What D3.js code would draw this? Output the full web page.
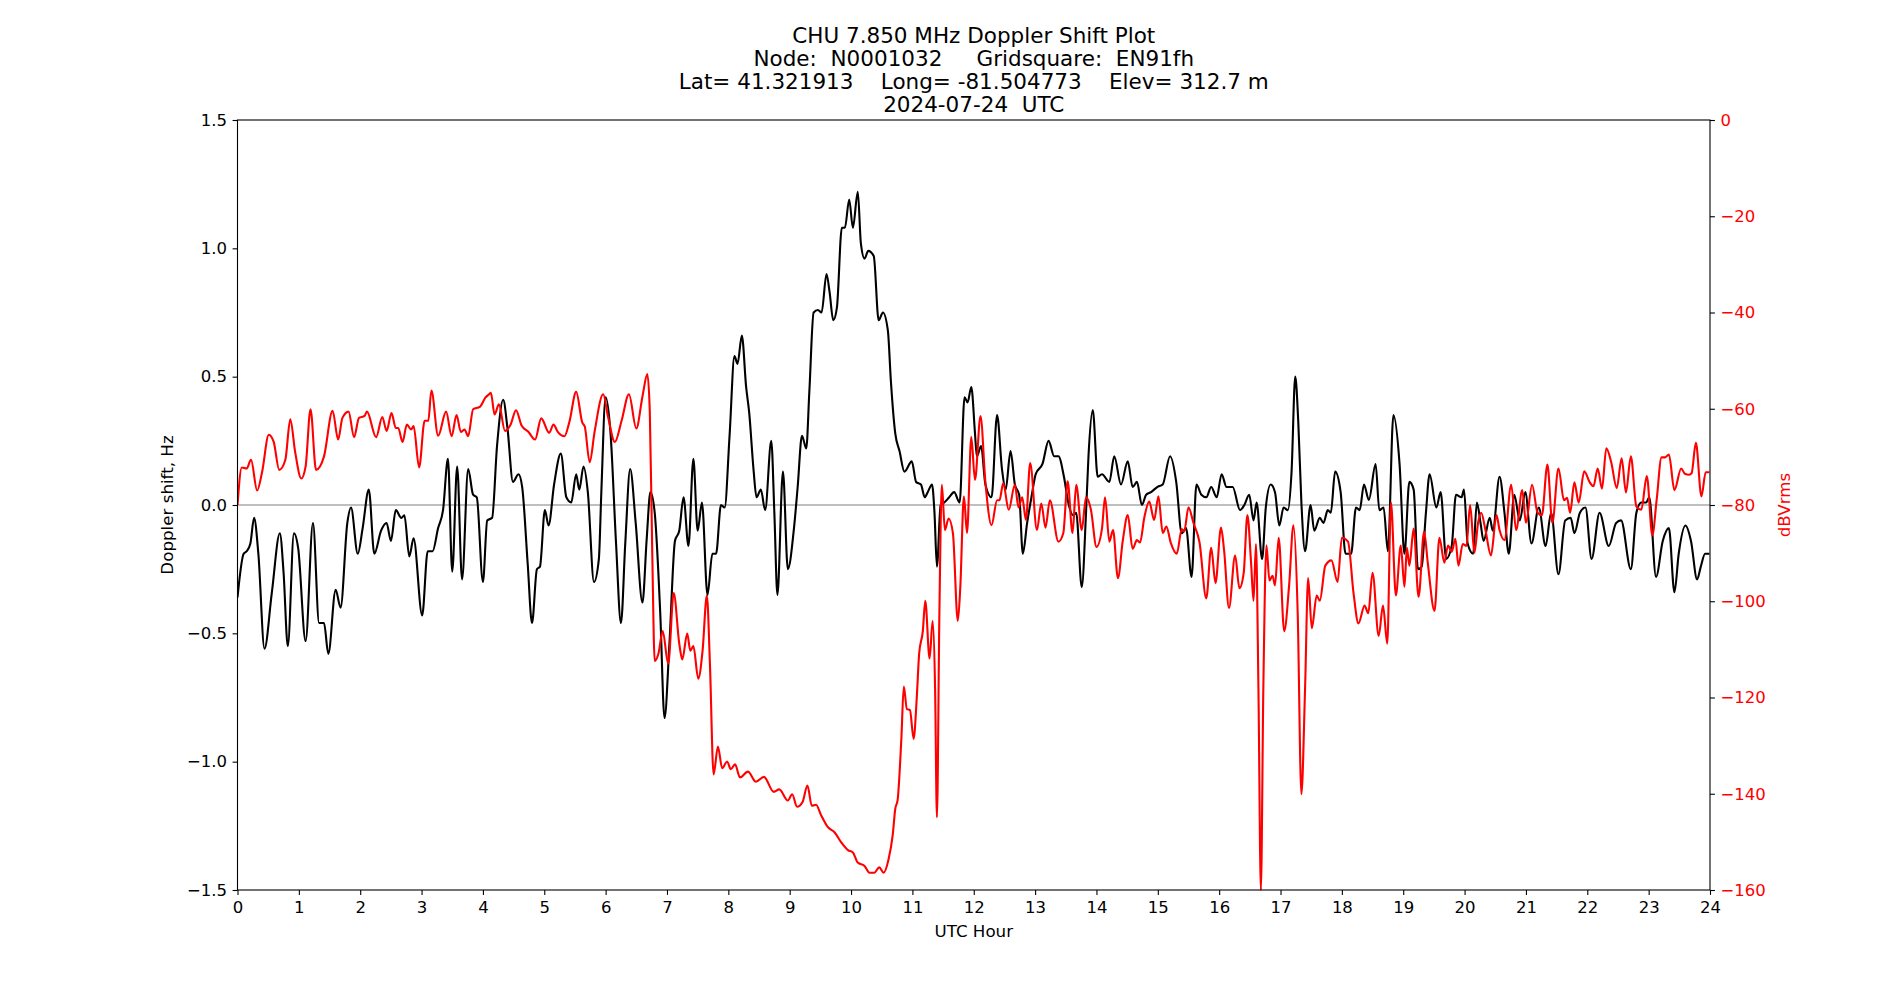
<!DOCTYPE html>
<html>
<head>
<meta charset="utf-8">
<script src="https://cdn.jsdelivr.net/npm/d3@7"></script>
<style>
  body { margin: 0; background: #fff; }
  svg { display: block; font-family: "DejaVu Sans", sans-serif; }
</style>
</head>
<body>
<svg id="chart" width="1900" height="1000"></svg>
<script>
"use strict";

const titleLines = [
  "CHU 7.850 MHz Doppler Shift Plot",
  "Node:  N0001032     Gridsquare:  EN91fh",
  "Lat= 41.321913    Long= -81.504773    Elev= 312.7 m",
  "2024-07-24  UTC"
];

const hourTicks = d3.range(0, 25);
const dopplerTicks = [1.5, 1.0, 0.5, 0.0, -0.5, -1.0, -1.5];
const dbTicks = [0, -20, -40, -60, -80, -100, -120, -140, -160];

// black trace: doppler shift, Hz
const dopplerHours = [0.00,0.10,0.15,0.21,0.27,0.34,0.44,0.56,0.69,0.75,0.82,0.92,0.99,1.11,1.23,1.33,1.41,1.48,1.60,1.68,1.79,1.85,1.96,2.04,2.14,2.23,2.34,2.43,2.50,2.58,2.67,2.72,2.80,2.87,3.01,3.10,3.18,3.27,3.35,3.43,3.50,3.58,3.66,3.76,3.84,3.90,4.00,4.07,4.15,4.23,4.33,4.40,4.49,4.58,4.64,4.73,4.80,4.88,4.93,5.01,5.07,5.16,5.27,5.36,5.44,5.52,5.57,5.64,5.71,5.81,5.89,5.93,6.00,6.08,6.17,6.25,6.32,6.40,6.49,6.60,6.67,6.73,6.80,6.89,6.96,7.04,7.13,7.20,7.27,7.35,7.43,7.50,7.57,7.66,7.74,7.80,7.88,7.94,8.02,8.10,8.15,8.22,8.29,8.34,8.41,8.46,8.53,8.60,8.70,8.75,8.80,8.89,8.97,9.07,9.13,9.20,9.27,9.32,9.39,9.46,9.52,9.60,9.65,9.71,9.77,9.85,9.90,9.97,10.03,10.11,10.16,10.22,10.28,10.37,10.45,10.52,10.60,10.65,10.72,10.79,10.87,10.99,11.06,11.14,11.20,11.25,11.32,11.36,11.40,11.46,11.52,11.60,11.68,11.77,11.85,11.90,11.96,12.02,12.05,12.12,12.19,12.29,12.38,12.46,12.52,12.60,12.67,12.74,12.80,12.87,12.94,13.01,13.12,13.22,13.31,13.38,13.47,13.54,13.62,13.67,13.76,13.83,13.87,13.94,14.02,14.09,14.21,14.29,14.40,14.51,14.59,14.66,14.74,14.81,14.89,14.99,15.08,15.20,15.30,15.39,15.46,15.55,15.63,15.71,15.79,15.87,15.96,16.04,16.12,16.22,16.34,16.41,16.49,16.56,16.61,16.70,16.76,16.84,16.91,16.98,17.05,17.12,17.18,17.24,17.29,17.34,17.40,17.49,17.55,17.64,17.70,17.77,17.82,17.89,17.98,18.06,18.15,18.23,18.29,18.36,18.44,18.55,18.61,18.68,18.75,18.84,18.94,19.02,19.10,19.17,19.24,19.30,19.37,19.43,19.54,19.61,19.70,19.79,19.86,19.95,19.99,20.05,20.14,20.20,20.26,20.31,20.41,20.46,20.57,20.65,20.72,20.81,20.90,20.99,21.09,21.21,21.32,21.41,21.53,21.64,21.73,21.79,21.88,21.97,22.07,22.20,22.35,22.47,22.55,22.71,22.80,22.88,22.96,23.01,23.12,23.23,23.33,23.42,23.49,23.60,23.69,23.79,23.85,23.92,23.99];
const dopplerHz = [-0.36,-0.19,-0.18,-0.15,-0.05,-0.19,-0.56,-0.34,-0.11,-0.26,-0.55,-0.11,-0.17,-0.53,-0.07,-0.46,-0.46,-0.58,-0.33,-0.40,-0.07,-0.01,-0.19,-0.09,0.06,-0.19,-0.10,-0.07,-0.14,-0.02,-0.05,-0.04,-0.20,-0.13,-0.43,-0.18,-0.18,-0.09,-0.02,0.18,-0.26,0.15,-0.29,0.14,0.04,0.03,-0.30,-0.06,-0.05,0.23,0.41,0.30,0.09,0.12,0.07,-0.23,-0.46,-0.25,-0.24,-0.02,-0.08,0.08,0.20,0.03,0.01,0.12,0.06,0.15,0.05,-0.30,-0.21,0.05,0.42,0.28,-0.15,-0.46,-0.15,0.14,-0.07,-0.38,-0.13,0.05,-0.03,-0.42,-0.83,-0.54,-0.14,-0.10,0.03,-0.16,0.18,-0.10,0.01,-0.35,-0.19,-0.19,0.00,-0.01,0.27,0.58,0.55,0.66,0.46,0.36,0.14,0.03,0.06,-0.02,0.25,-0.03,-0.35,0.13,-0.25,-0.09,0.07,0.27,0.22,0.44,0.75,0.76,0.75,0.90,0.83,0.72,0.77,1.08,1.08,1.19,1.08,1.22,1.02,0.96,0.99,0.97,0.72,0.75,0.68,0.48,0.28,0.21,0.13,0.17,0.09,0.08,0.03,0.05,0.08,-0.03,-0.24,0.00,0.01,0.03,0.05,0.01,0.42,0.40,0.46,0.28,0.19,0.23,0.08,0.03,0.35,0.14,0.06,0.21,0.08,0.04,-0.19,-0.07,0.03,0.12,0.16,0.25,0.19,0.19,0.11,0.01,-0.04,-0.03,-0.32,-0.03,0.19,0.37,0.11,0.12,0.09,0.19,0.08,0.17,0.07,0.09,0.00,0.04,0.05,0.07,0.08,0.19,0.09,-0.11,-0.09,-0.28,0.08,0.04,0.03,0.07,0.03,0.12,0.07,0.07,-0.02,0.00,0.04,-0.06,0.01,-0.21,-0.01,0.08,0.05,-0.08,-0.01,-0.02,0.13,0.50,0.32,0.01,-0.18,0.00,-0.10,-0.05,-0.07,-0.02,-0.03,0.13,0.05,-0.19,-0.19,-0.01,-0.02,0.08,0.02,0.16,-0.02,-0.01,-0.18,0.35,0.16,-0.19,0.09,0.06,-0.25,-0.24,-0.03,0.12,-0.01,0.05,-0.21,-0.16,0.04,0.03,0.06,-0.15,-0.19,0.01,-0.07,-0.14,-0.05,-0.10,0.11,-0.03,-0.19,0.04,-0.06,0.05,-0.15,-0.01,-0.16,-0.03,-0.27,-0.06,-0.05,-0.11,-0.03,-0.01,-0.21,-0.03,-0.16,-0.07,-0.06,-0.25,-0.03,0.01,0.01,0.03,-0.28,-0.14,-0.09,-0.34,-0.19,-0.08,-0.14,-0.29,-0.24,-0.19,-0.19];

// red trace: signal level, dBVrms
const levelHours = [0.00,0.07,0.15,0.22,0.32,0.40,0.51,0.59,0.68,0.78,0.86,0.94,1.04,1.11,1.19,1.28,1.41,1.55,1.64,1.71,1.81,1.90,1.98,2.07,2.11,2.26,2.36,2.43,2.51,2.58,2.62,2.69,2.76,2.83,2.87,2.96,3.05,3.11,3.16,3.27,3.40,3.49,3.57,3.64,3.70,3.76,3.84,3.95,4.04,4.10,4.13,4.19,4.26,4.36,4.45,4.54,4.63,4.74,4.85,4.95,5.08,5.15,5.22,5.33,5.41,5.52,5.62,5.66,5.74,5.82,5.96,6.04,6.15,6.26,6.38,6.50,6.60,6.68,6.72,6.76,6.80,6.86,6.93,7.02,7.11,7.20,7.25,7.33,7.38,7.43,7.51,7.58,7.65,7.70,7.76,7.83,7.90,7.98,8.04,8.11,8.19,8.32,8.45,8.58,8.74,8.83,8.97,9.04,9.12,9.21,9.29,9.36,9.43,9.51,9.62,9.73,9.84,9.95,10.03,10.11,10.22,10.30,10.38,10.46,10.53,10.61,10.68,10.72,10.76,10.82,10.86,10.91,10.96,11.02,11.07,11.11,11.17,11.21,11.28,11.33,11.37,11.40,11.44,11.48,11.53,11.59,11.66,11.74,11.78,11.84,11.89,11.96,12.02,12.11,12.19,12.29,12.38,12.42,12.48,12.57,12.67,12.73,12.79,12.85,12.92,13.03,13.10,13.17,13.24,13.38,13.46,13.53,13.61,13.67,13.76,13.83,13.91,14.00,14.09,14.14,14.21,14.27,14.35,14.43,14.51,14.59,14.66,14.71,14.78,14.86,14.94,15.01,15.08,15.14,15.21,15.31,15.39,15.43,15.50,15.58,15.68,15.79,15.87,15.94,16.03,16.08,16.16,16.26,16.33,16.40,16.46,16.52,16.56,16.60,16.64,16.68,16.72,16.77,16.82,16.87,16.91,16.97,17.06,17.14,17.21,17.28,17.34,17.40,17.45,17.51,17.59,17.64,17.73,17.83,17.93,18.00,18.10,18.19,18.27,18.37,18.43,18.50,18.60,18.67,18.74,18.80,18.88,18.96,19.02,19.06,19.10,19.17,19.25,19.34,19.40,19.51,19.59,19.67,19.73,19.79,19.85,19.90,19.97,20.03,20.09,20.16,20.22,20.27,20.34,20.43,20.52,20.57,20.65,20.76,20.84,20.94,21.00,21.10,21.19,21.26,21.35,21.43,21.53,21.62,21.67,21.72,21.79,21.86,21.95,22.04,22.10,22.17,22.24,22.31,22.39,22.48,22.56,22.63,22.71,22.80,22.88,22.97,23.06,23.13,23.21,23.27,23.33,23.42,23.53,23.59,23.66,23.70,23.77,23.86,23.93,23.99];
const levelDb = [-80,-72.2,-72.4,-70.6,-77,-73.2,-65.4,-66.9,-72.7,-70.6,-62.2,-69,-74.5,-72,-60.1,-72.7,-69.9,-60.4,-66.4,-61.9,-60.6,-65.9,-61.9,-61.5,-60.6,-65.9,-61.7,-64.6,-60.9,-64,-64,-66.9,-63.3,-64.3,-63.6,-72.2,-62.5,-62.5,-56.2,-65.6,-60.6,-65.7,-61.3,-64.8,-64.3,-65.7,-60.1,-59.6,-57.7,-57,-56.7,-61.2,-59.1,-64.6,-63.3,-60.3,-63.5,-64.8,-66.4,-62,-65,-63.3,-64.8,-65.7,-62.7,-56.5,-62.9,-63.7,-71.1,-64.8,-57,-61.7,-66.9,-62.5,-57,-64.1,-57.5,-52.8,-60.6,-89.9,-112.4,-110.9,-106.2,-113,-98.3,-108.8,-112.1,-106.7,-110.3,-109.3,-116.1,-110.3,-98.8,-113,-136,-130.2,-134.7,-133.3,-134.9,-133.9,-136.6,-135.4,-137.5,-136.5,-139.6,-139.1,-141.4,-140.1,-142.7,-141.7,-138.3,-142.5,-142.3,-144.4,-146.9,-148,-150.1,-151.7,-152.2,-154.3,-155,-156.4,-156.4,-155.3,-156.4,-153.7,-148.5,-143.2,-141.2,-128.6,-117.7,-122.4,-122.6,-128.6,-120.3,-110.9,-106.2,-99.9,-111.9,-104.1,-118.2,-144.9,-102.5,-75.8,-85.2,-82.8,-85.8,-104.1,-97.3,-78.2,-85.8,-65.9,-74.8,-61.5,-75.3,-84.2,-79,-79,-75.5,-81,-75.8,-80.5,-78.4,-83.1,-71.3,-85.2,-79.7,-84.7,-79,-87.6,-85.8,-75.1,-85.8,-75.8,-85.2,-78.4,-81,-88.7,-84.9,-78.4,-87.6,-85.2,-95.2,-87.3,-82.1,-89.1,-87.3,-87.8,-82.6,-79.3,-83.1,-78.2,-85.8,-84.5,-87.8,-90.1,-85,-85.5,-80.5,-83.7,-87.8,-99.4,-88.9,-96.2,-84.7,-89.4,-101.4,-90.5,-97.3,-94.1,-82.1,-92,-99.9,-88.1,-118.2,-160,-118,-88.4,-95.7,-94.7,-96.7,-86.8,-106.2,-96.7,-84.2,-102.5,-140.1,-118.2,-95.2,-105.6,-98.8,-99.9,-92.6,-91.5,-96,-86.8,-87.6,-98.3,-104.6,-100.9,-102.5,-94.1,-107.2,-100.9,-108.8,-79.5,-98.8,-88.4,-97,-88.9,-92.6,-84.9,-99.1,-85.5,-92,-102,-86.8,-92,-88.4,-89.7,-87,-92.6,-88.1,-88.5,-80,-89.9,-83.7,-81.6,-85.2,-90.5,-82.1,-85.2,-87.3,-75.8,-85.2,-76.9,-83.7,-75.8,-81.6,-82.1,-71.6,-83.7,-72.4,-79,-78.5,-81.6,-75.3,-79.5,-73,-75.3,-76.1,-72.4,-76.6,-68.2,-71.1,-76.5,-70.3,-77.4,-69.9,-80.3,-81,-74,-86.3,-79,-70.1,-70.1,-69.5,-76.9,-72.4,-73.5,-73.7,-73.4,-67.1,-78.2,-73.2,-73.2];

const svg = d3.select('#chart');
const margin = {left: 237.5, right: 190, top: 120, bottom: 110};
const width = 1900 - margin.left - margin.right;
const height = 1000 - margin.top - margin.bottom;

const x = d3.scaleLinear().domain([0, 24]).range([0, width]);
const yHz = d3.scaleLinear().domain([-1.5, 1.5]).range([height, 0]);
const yDb = d3.scaleLinear().domain([-160, 0]).range([height, 0]);

const g = svg.append('g').attr('transform', `translate(${margin.left},${margin.top})`);

g.append('defs').append('clipPath').attr('id', 'plotclip')
  .append('rect').attr('x', 0).attr('y', -2).attr('width', width).attr('height', height + 4);

// title
const title = svg.append('text')
  .attr('x', margin.left + width / 2)
  .attr('text-anchor', 'middle')
  .style('font-size', '21.5px');
titleLines.forEach((line, i) => {
  title.append('tspan')
    .attr('x', margin.left + width / 2)
    .attr('y', 42.5 + i * 23.3)
    .style('white-space', 'pre')
    .text(line);
});

// zero line
g.append('line')
  .attr('x1', 0).attr('x2', width)
  .attr('y1', yHz(0)).attr('y2', yHz(0))
  .attr('stroke', '#808080').attr('stroke-width', 1.1);

const plot = g.append('g').attr('clip-path', 'url(#plotclip)');

const dopplerLine = d3.line()
  .x((d, i) => x(dopplerHours[i]))
  .y(d => yHz(d))
  .curve(d3.curveMonotoneX);

const levelLine = d3.line()
  .x((d, i) => x(levelHours[i]))
  .y(d => yDb(d))
  .curve(d3.curveMonotoneX);

plot.append('path')
  .datum(dopplerHz)
  .attr('d', dopplerLine)
  .attr('fill', 'none')
  .attr('stroke', '#000')
  .attr('stroke-width', 2.1)
  .attr('stroke-linejoin', 'round');

plot.append('path')
  .datum(levelDb)
  .attr('d', levelLine)
  .attr('fill', 'none')
  .attr('stroke', '#ff0000')
  .attr('stroke-width', 2.1)
  .attr('stroke-linejoin', 'round');

// axes
const styleAxis = (sel, color) => {
  sel.attr('font-size', null).attr('font-family', null);
  sel.selectAll('.domain').remove();
  sel.selectAll('.tick line').attr('stroke', '#000').attr('stroke-width', 1.1);
  sel.selectAll('.tick text').style('font-size', '16.5px').attr('fill', color);
};

g.append('g')
  .attr('transform', `translate(0,${height})`)
  .call(d3.axisBottom(x).tickValues(hourTicks).tickFormat(d3.format('d')).tickSizeInner(4.9).tickSizeOuter(0).tickPadding(6))
  .call(sel => styleAxis(sel, '#000'));

g.append('g')
  .call(d3.axisLeft(yHz).tickValues(dopplerTicks).tickFormat(d3.format('.1f')).tickSizeInner(4.9).tickSizeOuter(0).tickPadding(5.5))
  .call(sel => styleAxis(sel, '#000'));

g.append('g')
  .attr('transform', `translate(${width},0)`)
  .call(d3.axisRight(yDb).tickValues(dbTicks).tickFormat(d3.format('d')).tickSizeInner(4.9).tickSizeOuter(0).tickPadding(5.5))
  .call(sel => styleAxis(sel, '#ff0000'));

// frame
g.append('rect')
  .attr('width', width).attr('height', height)
  .attr('fill', 'none').attr('stroke', '#000').attr('stroke-width', 1.1);

// axis labels
svg.append('text')
  .attr('x', margin.left + width / 2).attr('y', 937)
  .attr('text-anchor', 'middle')
  .style('font-size', '16.7px')
  .text('UTC Hour');

svg.append('text')
  .attr('transform', `translate(167,${margin.top + height / 2}) rotate(-90)`)
  .attr('text-anchor', 'middle')
  .attr('dominant-baseline', 'central')
  .style('font-size', '16.7px')
  .text('Doppler shift, Hz');

svg.append('text')
  .attr('transform', `translate(1784,${margin.top + height / 2}) rotate(-90)`)
  .attr('text-anchor', 'middle')
  .attr('dominant-baseline', 'central')
  .attr('fill', '#ff0000')
  .style('font-size', '16.7px')
  .text('dBVrms');
</script>
</body>
</html>
